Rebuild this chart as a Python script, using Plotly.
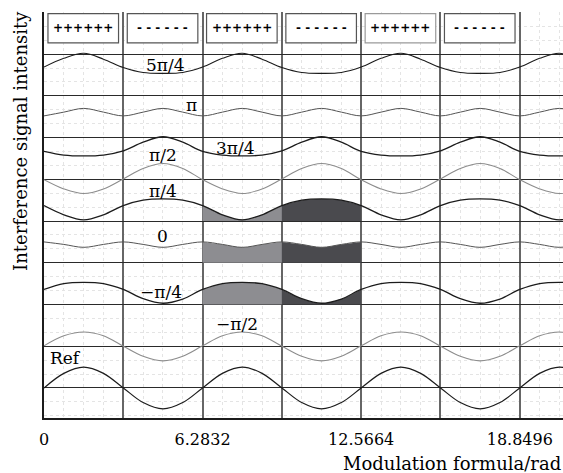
import numpy as np
import plotly.graph_objects as go

PI = np.pi
# sample phases (x) every pi/4 from 0 to 6.75*pi
x_samples = np.arange(28) * PI / 4

# curve values (band units; band k spans k..k+1)
y_5pi4 = [7.69, 7.90, 8.02, 7.88, 7.68, 7.56, 7.54, 7.56,
          7.69, 7.90, 8.02, 7.88, 7.68, 7.56, 7.54, 7.56,
          7.69, 7.90, 8.02, 7.88, 7.68, 7.56, 7.54, 7.56,
          7.69, 7.90, 8.02, 7.88]
y_pi = [6.52, 6.61, 6.70, 6.61, 6.52, 6.61, 6.70, 6.61,
        6.52, 6.61, 6.70, 6.61, 6.52, 6.61, 6.70, 6.61,
        6.52, 6.61, 6.70, 6.61, 6.52, 6.61, 6.70, 6.61,
        6.52, 6.61, 6.70, 6.61]
y_pi2 = [5.67, 5.58, 5.56, 5.58, 5.68, 5.89, 6.02, 5.89,
         5.67, 5.58, 5.56, 5.58, 5.68, 5.89, 6.02, 5.89,
         5.67, 5.58, 5.56, 5.58, 5.68, 5.89, 6.02, 5.89,
         5.67, 5.58, 5.56, 5.58]
y_3pi4 = [4.99, 4.77, 4.66, 4.77, 5.01, 5.26, 5.38, 5.26,
          4.99, 4.77, 4.66, 4.77, 5.01, 5.26, 5.38, 5.26,
          4.99, 4.77, 4.66, 4.77, 5.01, 5.26, 5.38, 5.26,
          4.99, 4.77, 4.66, 4.77]
y_pi4 = [4.37, 4.15, 4.03, 4.15, 4.37, 4.50, 4.53, 4.50,
         4.37, 4.15, 4.03, 4.15, 4.37, 4.50, 4.53, 4.50,
         4.37, 4.15, 4.03, 4.15, 4.37, 4.50, 4.53, 4.50,
         4.37, 4.15, 4.03, 4.15]
y_0 = [3.50, 3.44, 3.37, 3.44, 3.50, 3.44, 3.37, 3.44,
       3.50, 3.44, 3.37, 3.44, 3.50, 3.44, 3.37, 3.44,
       3.50, 3.44, 3.37, 3.44, 3.50, 3.44, 3.37, 3.44,
       3.50, 3.44, 3.37, 3.44]
y_mpi4 = [2.36, 2.50, 2.53, 2.50, 2.36, 2.14, 2.03, 2.13,
          2.36, 2.50, 2.53, 2.50, 2.36, 2.14, 2.03, 2.13,
          2.36, 2.50, 2.53, 2.50, 2.36, 2.14, 2.03, 2.13,
          2.36, 2.50, 2.53, 2.50]
y_mpi2 = [1.01, 1.25, 1.34, 1.25, 1.00, 0.76, 0.65, 0.76,
          1.01, 1.25, 1.34, 1.25, 1.00, 0.76, 0.65, 0.76,
          1.01, 1.25, 1.34, 1.25, 1.00, 0.76, 0.65, 0.76,
          1.01, 1.25, 1.34, 1.25]
y_ref = [0.00, 0.35, 0.50, 0.35, 0.00, -0.35, -0.50, -0.35,
         0.00, 0.35, 0.50, 0.35, 0.00, -0.35, -0.50, -0.35,
         0.00, 0.35, 0.50, 0.35, 0.00, -0.35, -0.50, -0.35,
         0.00, 0.35, 0.50, 0.35]

# top row sign boxes (one per pi interval)
box_labels = ["++++++", "- - - - - -", "++++++", "- - - - - -", "++++++", "- - - - - -"]

# curve labels: (text, x, y)
curve_labels = [("5π/4", 1.53 * PI, 7.75), ("π", 1.86 * PI, 6.79),
                ("π/2", 1.50 * PI, 5.59), ("3π/4", 2.41 * PI, 5.75),
                ("π/4", 1.50 * PI, 4.73), ("0", 1.50 * PI, 3.63),
                ("−π/4", 1.47 * PI, 2.30), ("−π/2", 2.43 * PI, 1.53),
                ("Ref", 0.265 * PI, 0.72)]

x_tickvals = [0, PI, 2 * PI, 3 * PI, 4 * PI, 5 * PI, 6 * PI]
x_ticktext = ["0", "", "6.2832", "", "12.5664", "", "18.8496"]

FONT = "DejaVu Serif"
BLACK = "#000000"
GRAY = "#8c8c8c"
LIGHT_FILL = "#8d8d91"
DARK_FILL = "#4a4a4e"

fig = go.Figure()

# filled segments for pi/4, 0, -pi/4 curves
fill_specs = [(y_pi4, 4), (y_0, 3), (y_mpi4, 2)]
for ys, base in fill_specs:
    for (i0, i1, col) in [(8, 12, LIGHT_FILL), (12, 16, DARK_FILL)]:
        xs = list(x_samples[i0:i1 + 1])
        fig.add_trace(go.Scatter(x=[xs[0], xs[-1]], y=[base, base], mode="lines",
                                 line=dict(width=0, color=col), showlegend=False,
                                 hoverinfo="skip"))
        fig.add_trace(go.Scatter(x=xs, y=ys[i0:i1 + 1], mode="lines",
                                 line=dict(width=0, color=col, shape="spline"),
                                 fill="tonexty", fillcolor=col, showlegend=False,
                                 hoverinfo="skip"))

curves = [(y_5pi4, "#1c1c1c", 1.1), (y_pi, "#555555", 1.0), (y_pi2, "#1c1c1c", 1.3),
          (y_3pi4, GRAY, 1.1), (y_pi4, "#1c1c1c", 1.3), (y_0, "#555555", 1.0),
          (y_mpi4, "#1c1c1c", 1.3), (y_mpi2, GRAY, 1.1), (y_ref, "#1c1c1c", 1.2)]
for ys, col, w in curves:
    fig.add_trace(go.Scatter(x=x_samples, y=ys, mode="lines",
                             line=dict(color=col, width=w, shape="spline"),
                             showlegend=False, hoverinfo="skip"))

shapes = []
annotations = []
for k, lab in enumerate(box_labels):
    shapes.append(dict(type="rect", xref="x", yref="y",
                       x0=k * PI + 0.05 * PI, x1=(k + 1) * PI - 0.06 * PI,
                       y0=8.27, y1=8.97,
                       line=dict(color="#555555" if k != 4 else "#9a9a9a", width=1.2),
                       fillcolor="rgba(255,255,255,1)", layer="above"))
    annotations.append(dict(x=k * PI + 0.495 * PI, y=8.62, xref="x", yref="y",
                            text="<b>" + lab + "</b>", showarrow=False,
                            font=dict(family=FONT, size=12, color=BLACK)))

for txt, xx, yy in curve_labels:
    annotations.append(dict(x=xx, y=yy, xref="x", yref="y", text=txt, showarrow=False,
                            font=dict(family=FONT, size=17, color=BLACK)))

annotations.append(dict(x=-0.0443, y=0.6825, xref="paper", yref="paper",
                        text="Interference signal intensity", textangle=-90,
                        showarrow=False, xanchor="center", yanchor="middle",
                        font=dict(family=FONT, size=18, color=BLACK)))
annotations.append(dict(x=1.0, y=-0.113, xref="paper", yref="paper",
                        text="Modulation formula/rad", showarrow=False,
                        xanchor="right", yanchor="middle",
                        font=dict(family=FONT, size=18, color=BLACK)))

fig.update_layout(
    width=563, height=473,
    margin=dict(l=44, r=0, t=12, b=55),
    paper_bgcolor="white", plot_bgcolor="white",
    shapes=shapes, annotations=annotations,
    xaxis=dict(range=[0, 6.545 * PI], tickmode="array", tickvals=x_tickvals,
               ticktext=x_ticktext, showgrid=True, gridcolor="#666666", gridwidth=1.5,
               zeroline=False, showline=True, linecolor="#1c1c1c", linewidth=1.5,
               ticks="", ticklabelstandoff=6,
               tickfont=dict(family=FONT, size=16, color=BLACK),
               minor=dict(dtick=PI / 4, tick0=0, showgrid=True, gridcolor="#e4e4e4",
                          griddash="dot", gridwidth=1)),
    yaxis=dict(range=[-0.72, 9.01], tickmode="array", tickvals=list(range(0, 10)),
               showticklabels=False, showgrid=True, gridcolor="#2a2a2a", gridwidth=1.3,
               zeroline=False, showline=True, linecolor="#1c1c1c", linewidth=1.5, ticks="",
               minor=dict(dtick=1.0 / 3, tick0=0, showgrid=True, gridcolor="#e4e4e4",
                          griddash="dot", gridwidth=1)),
)

fig.write_html("out.html")
